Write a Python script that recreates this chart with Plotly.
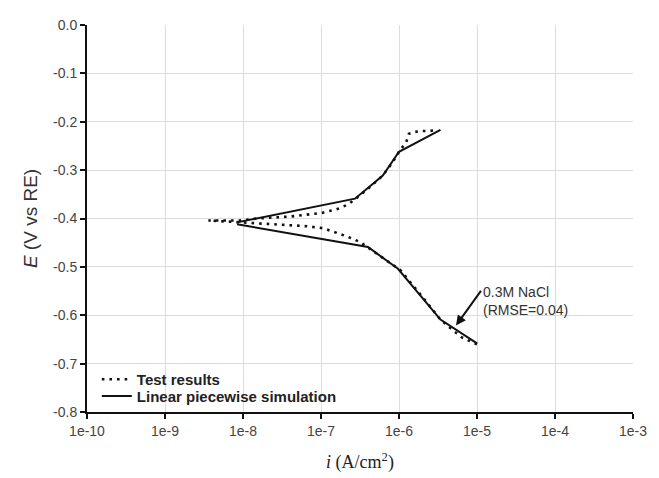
import plotly.graph_objects as go

# Test results (dotted): cathodic branch from high current back to Ecorr, then anodic branch
test_i = [1.0e-5, 8.1e-6, 6.4e-6, 4.9e-6, 4.1e-6, 3.4e-6, 1.86e-6, 1.03e-6, 6.4e-7, 4.0e-7,
          3.2e-7, 2.15e-7, 1.3e-7, 1.06e-7, 6.6e-8, 4.0e-8, 2.43e-8, 1.51e-8, 9.2e-9, 5.9e-9,
          3.6e-9,
          5.9e-9, 9.2e-9, 1.51e-8, 2.43e-8, 4.0e-8, 6.6e-8, 1.06e-7, 1.65e-7, 2.15e-7, 2.5e-7,
          3.2e-7, 4.25e-7, 6.2e-7, 8.1e-7, 1.06e-6, 1.23e-6, 1.34e-6, 1.6e-6, 1.97e-6, 2.5e-6,
          3.07e-6]
test_E = [-0.660, -0.654, -0.646, -0.631, -0.621, -0.609, -0.556, -0.506, -0.483, -0.459,
          -0.449, -0.437, -0.424, -0.420, -0.416, -0.414, -0.412, -0.410, -0.408, -0.406,
          -0.404,
          -0.404, -0.404, -0.400, -0.398, -0.396, -0.392, -0.388, -0.380, -0.372, -0.365,
          -0.351, -0.335, -0.311, -0.286, -0.256, -0.244, -0.225, -0.221, -0.219, -0.219,
          -0.217]

# Linear piecewise simulation (solid)
sim_i = [3.4e-6, 1.0e-6, 6.2e-7, 2.73e-7, 8.4e-9, None, 8.4e-9, 4.0e-7, 9.7e-7, 3.4e-6, 1.0e-5]
sim_E = [-0.217, -0.262, -0.311, -0.359, -0.408, None, -0.412, -0.459, -0.504, -0.609, -0.658]

x_tickvals = [1e-10, 1e-9, 1e-8, 1e-7, 1e-6, 1e-5, 1e-4, 1e-3]
x_ticktext = ["1e-10", "1e-9", "1e-8", "1e-7", "1e-6", "1e-5", "1e-4", "1e-3"]
y_tickvals = [0.0, -0.1, -0.2, -0.3, -0.4, -0.5, -0.6, -0.7, -0.8]
y_ticktext = ["0.0", "-0.1", "-0.2", "-0.3", "-0.4", "-0.5", "-0.6", "-0.7", "-0.8"]

fig = go.Figure()
fig.add_trace(go.Scatter(x=test_i, y=test_E, mode="lines", name="<b>Test results</b>",
                         line=dict(color="#111111", width=2.6, dash="2.6px,5px"), legend="legend"))
fig.add_trace(go.Scatter(x=sim_i, y=sim_E, mode="lines", name="<b>Linear piecewise simulation</b>",
                         line=dict(color="#111111", width=2), connectgaps=False, legend="legend2"))

fig.add_annotation(x=-5.269, y=-0.621, xref="x", yref="y", ax=26, ay=-36, axref="pixel", ayref="pixel",
                   text="", showarrow=True, arrowhead=2, arrowsize=1, arrowwidth=2, arrowcolor="#111111")
fig.add_annotation(x=-4.949, y=-0.571, xref="x", yref="y", text="0.3M NaCl<br>(RMSE=0.04)",
                   showarrow=False, xanchor="left", yanchor="middle", align="left",
                   font=dict(family="Arial, Liberation Sans", size=14, color="#333333"))

legend_common = dict(xanchor="left", yanchor="middle", bgcolor="rgba(0,0,0,0)",
                     font=dict(family="Arial, Liberation Sans", size=15, color="#222222"),
                     tracegroupgap=0, itemwidth=30)

# page body has an 8px margin, so the figure is made 8px smaller
fig.update_layout(
    width=651, height=470,
    margin=dict(l=79, r=26, t=9, b=59),
    paper_bgcolor="white", plot_bgcolor="white",
    font=dict(family="Arial, Liberation Sans", size=12, color="#444444"),
    showlegend=True,
    legend=dict(x=0.018, y=0.084, **legend_common),
    legend2=dict(x=0.018, y=0.041, **legend_common),
)
fig.update_xaxes(type="log", range=[-10, -3], tickvals=x_tickvals, ticktext=x_ticktext,
                 showgrid=True, gridcolor="#dcdcdc", gridwidth=1,
                 showline=True, linecolor="#111111", linewidth=2, ticks="outside", ticklen=5,
                 tickcolor="#111111", tickwidth=1.5, mirror=False,
                 tickfont=dict(size=14, color="#444444"),
                 title=dict(text="<i>i</i> (A/cm<sup>2</sup>)", standoff=18,
                            font=dict(family="Liberation Serif, Times New Roman", size=18, color="#222222")))
fig.update_yaxes(range=[-0.8, 0.0], tickvals=y_tickvals, ticktext=y_ticktext,
                 showgrid=True, gridcolor="#dcdcdc", gridwidth=1, zeroline=False,
                 showline=True, linecolor="#111111", linewidth=2, ticks="outside", ticklen=5,
                 tickcolor="#111111", tickwidth=1.5,
                 tickfont=dict(size=14, color="#444444"),
                 title=dict(text="<i>E</i> (V vs RE)", standoff=10,
                            font=dict(family="Arial, Liberation Sans", size=19, color="#333333")))

fig.write_html("out.html")
